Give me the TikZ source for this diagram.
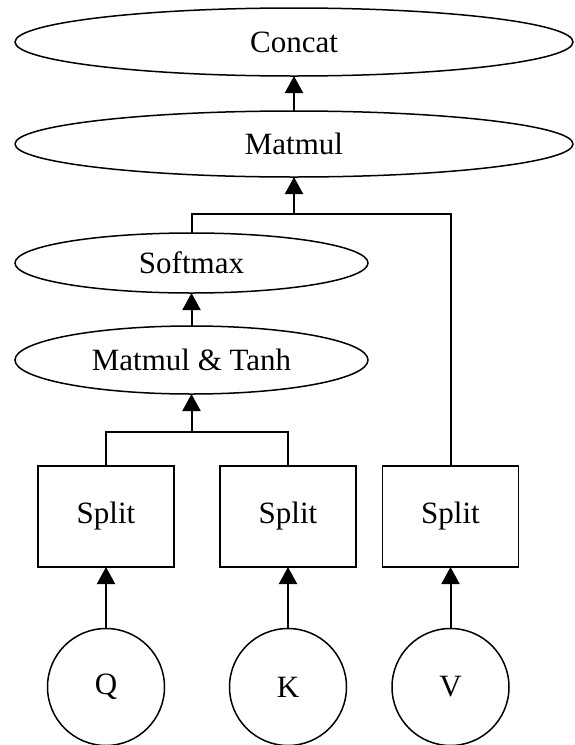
\documentclass[tikz,border=0pt]{standalone}
\usepackage{fontspec}
\setmainfont{Liberation Serif}
\usetikzlibrary{shapes.geometric,arrows.meta}
\begin{document}
\begin{tikzpicture}[x=1pt,y=-1pt,
  every node/.style={font=\fontsize{31}{37}\selectfont, inner sep=0pt, outer sep=0pt},
  ell/.style={draw, ellipse, line width=1.5pt},
  splitbox/.style={draw, rectangle, line width=1.5pt, minimum width=136pt, minimum height=101pt},
  inp/.style={draw, circle, line width=1.5pt, minimum size=117pt},
  conn/.style={line width=2pt},
  arr/.style={line width=2pt, -{Triangle[length=17pt,width=18pt]}}]
\useasboundingbox (0,0) rectangle (574,745);
\node[ell, minimum width=558pt, minimum height=68pt] (concat) at (294,42) {Concat};
\node[ell, minimum width=558pt, minimum height=66pt] (mm) at (294,144) {Matmul};
\node[ell, minimum width=353pt, minimum height=60pt] (sm) at (191.5,263) {Softmax};
\node[ell, minimum width=353pt, minimum height=68pt] (mt) at (191.5,360) {Matmul \& Tanh};
\node[splitbox] (s1) at (106,516.5) {Split};
\node[splitbox] (s2) at (288,516.5) {Split};
\node[splitbox] (s3) at (450.5,516.5) {Split};
\node[inp] (q) at (106,687) {Q};
\node[inp] (k) at (288,687) {K};
\node[inp] (v) at (450.5,687) {V};
\draw[arr] (q) -- (s1);
\draw[arr] (k) -- (s2);
\draw[arr] (v) -- (s3);
\path (mt.south) ++(0,38) coordinate (j1);
\draw[conn] (s1.north) |- (j1) -| (s2.north);
\draw[arr] (j1) -- (mt.south);
\draw[arr] (mt.north) -- (sm.south);
\path (mm.south) ++(0,37) coordinate (j2);
\draw[conn] (sm.north) |- (j2) -| (s3.north);
\draw[arr] (j2) -- (mm.south);
\draw[arr] (mm.north) -- (concat.south);
\end{tikzpicture}
\end{document}
